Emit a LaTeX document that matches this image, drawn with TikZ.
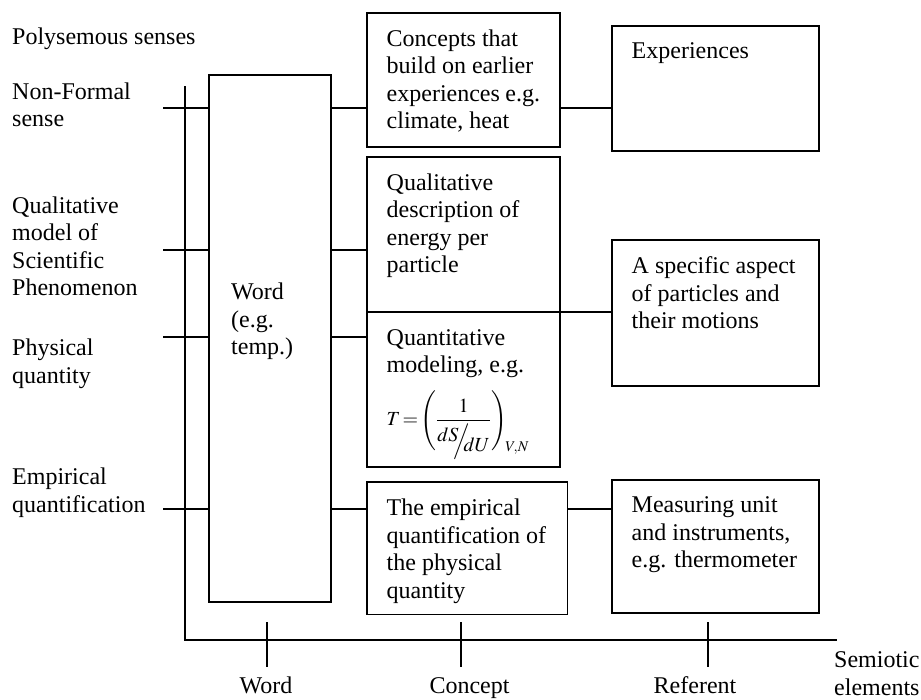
\documentclass[tikz,border=0pt]{standalone}
\usepackage{mathptmx}
\usepackage{fontspec}
\setmainfont{Liberation Serif}
\usetikzlibrary{positioning}

\tikzset{
  ln/.style={line width=1.8pt},
  cbox/.style={draw, line width=1.8pt, anchor=north west, inner xsep=20pt, inner ysep=17pt, outer sep=0pt},
  lbl/.style={anchor=north west, inner sep=0pt, align=left},
}
\newcommand{\boxtext}[3]{\parbox[t][#2][t]{#1}{\raggedright #3}}

\begin{document}
\begin{tikzpicture}[x=1pt,y=-1pt,font=\fontsize{24}{27.5}\selectfont]
\useasboundingbox (0,0) rectangle (921,699);

% Polysemous senses (left)
\node[lbl] (poly) at (12,27.5) {Polysemous senses};
\node[lbl] (nf) at (12,82.2) {Non-Formal\\sense};
\node[lbl] (qm) at (12,196.2) {Qualitative\\model of\\Scientific\\Phenomenon};
\node[lbl] (pq) at (12,338.8) {Physical\\quantity};
\node[lbl] (eq) at (12,467.8) {Empirical\\quantification};

% Axes
\coordinate (top) at (185,86);
\coordinate (o) at (185,640);
\coordinate (end) at (837,640);
\draw[ln] (top) -- (o) -- (end);
\foreach \x in {267,461,708}
  \draw[ln] (\x,622) -- (\x,667);

% Word
\node[cbox, inner sep=0pt, minimum width=121.7pt, minimum height=526.7pt] (w) at (209.3,75) {};
\node[lbl] (wt) at (231,282.8) {Word\\(e.g.\\temp.)};

% Concept
\node[cbox] (c1) at (366.7,12.7) {\boxtext{153.3pt}{100pt}{Concepts that\\build on earlier\\experiences e.g.\\climate, heat}};
\node[cbox] (c2) at (366.7,156.7) {\boxtext{153.3pt}{121.6pt}{Qualitative\\description of\\energy per\\particle}};
\node[cbox] (c3) at (366.7,312.3) {\boxtext{153.3pt}{120.4pt}{Quantitative\\modeling, e.g.\\[12pt]
  {\fontsize{20}{24}\selectfont $T\mkern-2mu=\mkern-2mu\Bigg(\displaystyle\frac{1}{\raisebox{5pt}{$dS$}\mkern-5mu\Big/\mkern-5mu\raisebox{-5pt}{$dU$}}\Bigg)_{\!V,N}$}}};
\node[cbox] (c4) at (366.7,482.3) {\boxtext{160.8pt}{98.2pt}{The empirical\\quantification of\\the physical\\quantity}};

% Referent
\node[cbox] (r1) at (611.7,26) {\boxtext{167.3pt}{90.7pt}{Experiences}};
\node[cbox] (r2) at (611.7,240) {\boxtext{167.3pt}{111.7pt}{A specific aspect\\of particles and\\their motions}};
\node[cbox] (r3) at (611.7,480) {\boxtext{167.3pt}{99.3pt}{Measuring unit\\and instruments,\\e.g. thermometer}};

% Connectors
\coordinate (s1) at (163,107.7);
\coordinate (s2) at (163,250.3);
\coordinate (s3) at (163,336.7);
\coordinate (s4) at (163,509.3);
\foreach \s in {s1,s2,s3,s4}
  \draw[ln] (\s) -- (w.west |- \s);
\draw[ln] (w.east |- s1) -- (c1.west |- s1);
\draw[ln] (w.east |- s2) -- (c2.west |- s2);
\draw[ln] (w.east |- s3) -- (c3.west |- s3);
\draw[ln] (w.east |- s4) -- (c4.west |- s4);
\draw[ln] (c1.east |- s1) -- (r1.west |- s1);
\draw[ln] (c3.north east) -- (r2.west |- c3.north east);
\draw[ln] (c4.east |- s4) -- (r3.west |- s4);

% Semiotic elements
\node[anchor=base] (lw) at (266,693) {Word};
\node[anchor=base] (lc) at (469.5,693) {Concept};
\node[anchor=base] (lr) at (695,693) {Referent};
\node[lbl] (se) at (834,651.5) {Semiotic\\elements};
\end{tikzpicture}
\end{document}
